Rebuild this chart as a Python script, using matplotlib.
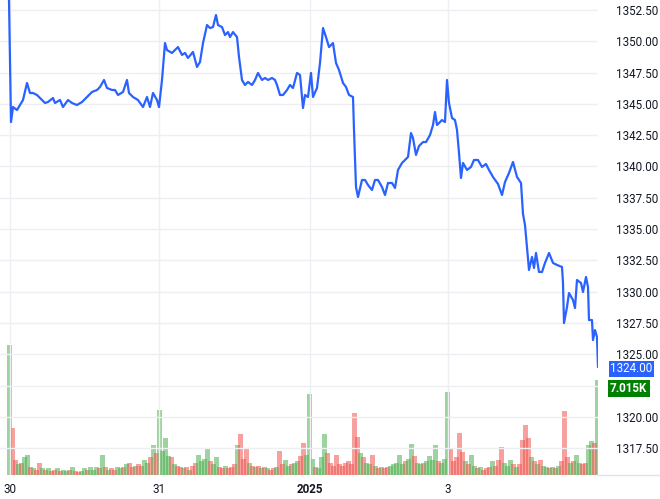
import matplotlib
matplotlib.use("Agg")
import matplotlib.pyplot as plt
import matplotlib.transforms as mtransforms
import numpy as np

# time in bar units since the session open, price of the close line
t = [0, 2, 4, 8, 11, 14, 18, 21, 24, 28, 33, 36, 39, 44, 46, 51, 54, 59, 63, 68,
     73, 78, 83, 88, 91, 95, 98, 103, 106, 109, 114, 118, 120, 124, 129, 134, 138, 141, 144, 148,
     150, 153, 156, 158, 163, 166, 169, 173, 176, 179, 184, 188, 191, 194, 198, 201, 204, 207, 209, 213,
     216, 219, 221, 224, 228, 230, 233, 236, 239, 243, 246, 249, 253, 256, 259, 263, 266, 268, 271, 274,
     278, 281, 284, 288, 291, 294, 296, 299, 302, 304, 308, 311, 314, 317, 320, 324, 327, 330, 334, 337,
     340, 344, 345, 347, 349, 353, 356, 359, 363, 366, 369, 373, 376, 379, 383, 386, 389, 393, 396, 399,
     402, 404, 407, 410, 414, 417, 421, 424, 426, 428, 433, 436, 438, 440, 443, 446, 448, 450, 452, 454,
     458, 462, 465, 469, 473, 477, 480, 484, 489, 493, 496, 500, 504, 508, 512, 514, 516, 518, 520, 523,
     525, 527, 530, 533, 536, 540, 544, 548, 553, 554, 555, 558, 560, 564, 566, 568, 572, 574, 577, 579,
     580, 583, 584, 586, 588, 589]
price = [1353.30, 1343.55, 1344.75, 1344.51, 1344.91, 1345.31, 1346.67, 1345.87, 1345.87, 1345.71,
         1345.31, 1345.07, 1345.15, 1345.47, 1345.07, 1345.31, 1344.75, 1345.31, 1345.07, 1344.91,
         1345.15, 1345.55, 1345.95, 1346.11, 1346.35, 1346.91, 1346.27, 1346.11, 1346.11, 1345.71,
         1345.95, 1346.91, 1345.87, 1345.55, 1345.31, 1344.75, 1345.55, 1344.75, 1345.87, 1345.31,
         1344.75, 1346.91, 1349.86, 1349.30, 1349.07, 1349.30, 1349.54, 1348.91, 1349.07, 1348.67,
         1349.15, 1347.95, 1348.35, 1349.86, 1351.30, 1351.06, 1351.14, 1352.10, 1351.30, 1351.14,
         1350.50, 1350.74, 1350.34, 1350.74, 1350.34, 1348.75, 1346.91, 1346.51, 1346.75, 1346.51,
         1346.91, 1347.47, 1346.91, 1347.07, 1346.91, 1347.07, 1346.91, 1346.51, 1345.71, 1345.71,
         1346.11, 1346.51, 1346.27, 1347.47, 1347.31, 1344.67, 1345.71, 1345.55, 1347.47, 1345.55,
         1346.27, 1348.27, 1351.06, 1350.34, 1349.54, 1349.86, 1348.27, 1347.71, 1346.67, 1346.35,
         1345.71, 1345.55, 1342.91, 1338.36, 1337.56, 1338.92, 1338.92, 1338.52, 1338.12, 1338.92,
         1338.92, 1338.36, 1337.72, 1338.68, 1338.68, 1338.28, 1339.72, 1340.28, 1340.52, 1340.76,
         1342.67, 1342.27, 1340.92, 1341.63, 1341.95, 1341.95, 1342.51, 1343.31, 1344.35, 1343.31,
         1343.71, 1343.55, 1346.91, 1345.07, 1343.87, 1343.71, 1342.91, 1341.08, 1339.08, 1340.28,
         1339.72, 1339.96, 1340.52, 1340.52, 1339.96, 1340.20, 1339.72, 1339.16, 1338.60, 1337.72,
         1338.76, 1339.48, 1340.36, 1339.16, 1338.68, 1336.20, 1335.32, 1333.56, 1331.73, 1332.77,
         1331.89, 1333.09, 1331.57, 1331.57, 1332.29, 1333.09, 1332.29, 1332.13, 1331.97, 1330.69,
         1327.49, 1328.77, 1329.89, 1329.33, 1328.69, 1330.93, 1330.69, 1329.97, 1331.17, 1330.37,
         1327.73, 1327.73, 1326.13, 1326.93, 1326.37, 1324.00]

# volume in thousands, one bar every 3 time units
vol = [9.6, 3.5, 1.1, 0.8, 0.9, 1.3, 1.5, 0.6, 0.5, 0.4,
       0.9, 0.5, 0.4, 0.5, 0.3, 0.4, 0.5, 0.3, 0.4, 0.3,
       0.4, 0.6, 0.3, 0.2, 0.3, 0.5, 0.4, 0.6, 0.4, 0.6,
       0.5, 1.5, 0.6, 0.4, 0.5, 0.4, 0.6, 0.5, 0.6, 0.8,
       0.9, 0.6, 0.7, 0.8, 0.7, 1.1, 0.9, 1.3, 2.2, 1.6,
       4.8, 1.8, 2.7, 1.4, 1.3, 0.8, 0.7, 0.6, 0.5, 0.6,
       0.4, 0.7, 0.9, 1.5, 1.0, 1.2, 1.9, 1.0, 0.8, 1.3,
       0.6, 0.5, 0.7, 0.5, 0.6, 0.8, 2.2, 3.0, 1.2, 1.9,
       0.9, 0.7, 0.6, 0.7, 0.5, 0.6, 0.5, 0.4, 0.5, 0.6,
       1.8, 0.8, 1.1, 0.7, 0.8, 0.9, 1.0, 1.4, 2.4, 1.5,
       6.0, 1.2, 0.6, 0.5, 1.3, 3.0, 1.6, 0.9, 0.7, 1.5,
       0.8, 0.7, 0.9, 1.0, 0.8, 4.6, 2.8, 1.6, 1.3, 0.9,
       0.8, 1.5, 0.7, 0.5, 0.6, 0.5, 0.6, 0.7, 0.8, 0.9,
       1.5, 0.8, 1.0, 1.2, 2.3, 1.4, 0.9, 0.8, 0.9, 1.0,
       1.4, 1.1, 2.2, 1.0, 0.9, 1.2, 6.1, 2.0, 1.0, 1.3,
       3.1, 1.7, 1.0, 0.8, 1.5, 0.7, 0.5, 0.6, 0.4, 0.5,
       0.6, 1.0, 0.7, 1.1, 2.1, 0.9, 0.7, 1.1, 0.8, 0.6,
       0.8, 2.6, 3.7, 2.7, 1.3, 1.0, 0.8, 1.1, 0.7, 0.6,
       0.5, 0.6, 0.5, 0.7, 1.0, 4.7, 1.3, 0.9, 1.0, 1.5,
       0.9, 0.8, 0.9, 2.2, 2.5, 2.4, 7.015]
vol_dir = ("grrgrggrgr" "rgrgrrgrgg" "rgrrggrgg" "g" "rgrgrrggrg"
           "rrgrrggrgr" "ggggrgrrgr" "grrggggrgg" "rrgrrrgrrr"
           "grgrgrgrrg" "rrggrggrrg" "ggrgggrrrr" "rrrrrrrgrg"
           "grgrgrrggg" "ggrggrggrg" "gggrgggrrr" "rrgrggrgrr"
           "rgrrrgggrg" "rrrrgrgrgg" "rgrgrrrgrg" "grrggrg")

day_ticks = [1, 150, 301, 439]
day_labels = ["30", "31", "2025", "3"]
price_ticks = np.arange(1317.5, 1353, 2.5)

plt.rcParams["font.family"] = ["Roboto", "DejaVu Sans"]
fig = plt.figure(figsize=(6.6, 4.99), dpi=100)
rect = [0, 24 / 499, 598 / 660, 475 / 499]

axv = fig.add_axes(rect)
ax = fig.add_axes(rect)
ax.patch.set_visible(False)

# volume pane
vt = np.arange(len(vol)) * 3
cols = [(0.30, 0.69, 0.31, 0.55) if d == "g" else (0.94, 0.33, 0.31, 0.55) for d in vol_dir]
axv.bar(vt, vol, width=5.0, color=cols, linewidth=0)
axv.set_xlim(-9, 589)
axv.set_ylim(0, 35.1)
axv.axis("off")

# price line
ax.plot(t, price, color="#2962ff", lw=1.6, solid_joinstyle="round", zorder=3)
ax.set_xlim(-9, 589)
ax.set_ylim(1315.35, 1353.30)
ax.set_yticks(price_ticks)
# 1322.50 sits under the volume label box, as in the source chart
ax.set_yticklabels(["" if p == 1322.5 else "%.2f" % p for p in price_ticks])
ax.yaxis.tick_right()
ax.set_xticks(day_ticks)
ax.set_xticklabels(day_labels)
ax.xaxis.get_ticklabels()[2].set_fontweight("bold")
ax.tick_params(axis="y", length=0, pad=13, labelsize=8.4, labelcolor="#131722")
ax.tick_params(axis="x", length=0, pad=6, labelsize=8.4, labelcolor="#131722")
ax.grid(True, color="#eeeff2", lw=1)
ax.set_axisbelow(True)
for s in ax.spines.values():
    s.set_visible(False)
ax.plot([1.0, 1.12], [0, 0], transform=ax.transAxes, color="#e0e3eb", lw=1, clip_on=False)

# last value labels
trans = mtransforms.blended_transform_factory(ax.transAxes, ax.transData)
ax.annotate("%.2f" % price[-1], xy=(1.02, price[-1]), xycoords=trans,
            xytext=(0, -1.5), textcoords="offset points", color="white",
            fontsize=8.4, va="center", ha="left", zorder=10, annotation_clip=False,
            bbox=dict(boxstyle="square,pad=0.12", fc="#2962ff", ec="none"))
transv = mtransforms.blended_transform_factory(ax.transAxes, axv.transData)
ax.annotate("%.3fK" % vol[-1], xy=(1.02, vol[-1]), xycoords=transv,
            xytext=(0, -1.5), textcoords="offset points", color="white",
            fontsize=8.4, fontweight="bold", va="top", ha="left", zorder=10,
            annotation_clip=False,
            bbox=dict(boxstyle="square,pad=0.2", fc="#008000", ec="none"))

fig.savefig("out.png", dpi=100)
